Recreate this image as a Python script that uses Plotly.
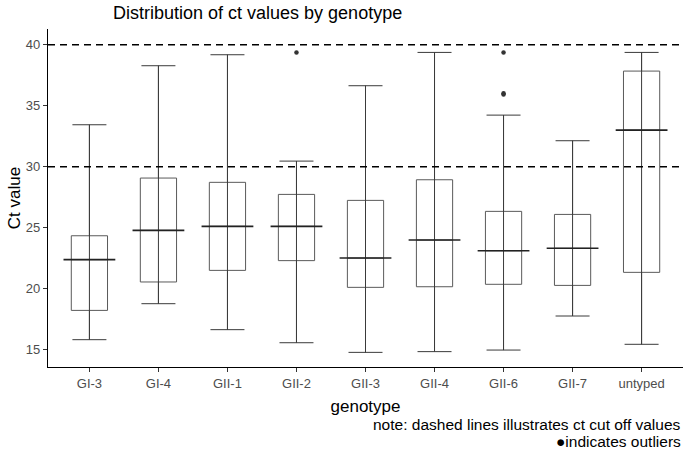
import plotly.graph_objects as go

genotypes = ["GI-3", "GI-4", "GII-1", "GII-2", "GII-3", "GII-4", "GII-6", "GII-7", "untyped"]
lower = [15.82, 18.77, 16.64, 15.57, 14.78, 14.84, 14.97, 17.76, 15.44]
q1 = [18.22, 20.55, 21.50, 22.30, 20.11, 20.16, 20.36, 20.27, 21.34]
median = [22.38, 24.78, 25.11, 25.11, 22.51, 23.99, 23.11, 23.31, 33.00]
q3 = [24.34, 29.07, 28.72, 27.73, 27.24, 28.93, 26.34, 26.09, 37.84]
upper = [33.44, 38.28, 39.18, 30.46, 36.64, 39.37, 34.23, 32.13, 39.37]

outlier_x = ["GII-2", "GII-6", "GII-6", "GII-6"]
outlier_y = [39.37, 39.37, 36.02, 35.92]

cutoffs = [30, 40]

FONT = "Liberation Sans, Arial, sans-serif"

fig = go.Figure()

# whiskers with caps (errorbar through the box)
fig.add_trace(go.Scatter(
    x=genotypes, y=median, mode="markers",
    marker=dict(size=1, color="rgba(0,0,0,0)"),
    error_y=dict(type="data", symmetric=False,
                 array=[u - m for u, m in zip(upper, median)],
                 arrayminus=[m - l for m, l in zip(median, lower)],
                 width=17, thickness=1, color="#3a3a3a"),
    hoverinfo="skip", showlegend=False,
))

# boxes
fig.add_trace(go.Box(
    x=genotypes, q1=q1, median=median, q3=q3,
    lowerfence=lower, upperfence=upper,
    fillcolor="rgba(0,0,0,0)",
    line=dict(color="#5a5a5a", width=1),
    whiskerwidth=0, boxpoints=False, showlegend=False,
))

# darker median lines
fig.add_trace(go.Scatter(
    x=genotypes, y=median, mode="markers",
    marker=dict(symbol="line-ew", size=37, line=dict(color="#222222", width=1.6)),
    hoverinfo="skip", showlegend=False,
))

# outliers
fig.add_trace(go.Scatter(
    x=outlier_x, y=outlier_y, mode="markers",
    marker=dict(size=4.5, color="#333333"),
    showlegend=False,
))

for c in cutoffs:
    fig.add_hline(y=c, line=dict(color="black", width=1.6, dash="7px,5px"), layer="above")

fig.update_layout(
    width=685, height=454,
    margin=dict(l=48, r=2, t=29, b=87),
    paper_bgcolor="white", plot_bgcolor="white",
    boxgap=0.25,
    font=dict(family=FONT, color="#222222"),
    title=dict(text="Distribution of ct values by genotype",
               x=113 / 685, xanchor="left", xref="container",
               y=1 - 13 / 454, yanchor="middle", yref="container",
               font=dict(size=18, color="black", family=FONT)),
    xaxis=dict(
        type="category", range=[-0.6, 8.6],
        showline=True, linecolor="black", linewidth=1.3,
        ticks="outside", ticklen=4, tickcolor="#333333", tickwidth=1,
        showgrid=False, zeroline=False,
        tickfont=dict(size=13, color="#4d4d4d"),
        title=dict(text="genotype", font=dict(size=17, color="black"), standoff=10),
    ),
    yaxis=dict(
        range=[13.58, 41.29],
        tickvals=[15, 20, 25, 30, 35, 40],
        showline=True, linecolor="black", linewidth=1.3,
        ticks="outside", ticklen=4, tickcolor="#333333", tickwidth=1,
        showgrid=False, zeroline=False,
        tickfont=dict(size=13, color="#4d4d4d"),
        title=dict(text="Ct value", font=dict(size=17, color="black"), standoff=0),
    ),
    annotations=[
        dict(text="note: dashed lines illustrates ct cut off values",
             xref="paper", yref="paper", x=1, y=-0.17,
             xanchor="right", yanchor="middle", showarrow=False,
             font=dict(size=15.5, color="black")),
        dict(text="●indicates outliers",
             xref="paper", yref="paper", x=1, y=-0.22,
             xanchor="right", yanchor="middle", showarrow=False,
             font=dict(size=15.5, color="black")),
    ],
)

fig.write_html("out.html",
               config={"displayModeBar": False},
               post_script="document.body.style.margin='0';document.body.style.padding='0';")
